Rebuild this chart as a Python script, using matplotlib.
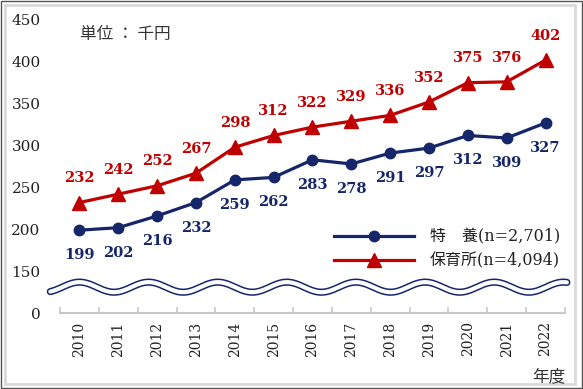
import numpy as np
import matplotlib.pyplot as plt
from matplotlib.patches import Rectangle

years = ["2010", "2011", "2012", "2013", "2014", "2015", "2016",
         "2017", "2018", "2019", "2020", "2021", "2022"]
tokuyo = [199, 202, 216, 232, 259, 262, 283, 278, 291, 297, 312, 309, 327]
hoiku = [232, 242, 252, 267, 298, 312, 322, 329, 336, 352, 375, 376, 402]
ytick_vals = [100, 150, 200, 250, 300, 350, 400, 450]
ytick_labels = ["0", "150", "200", "250", "300", "350", "400", "450"]

navy = "#16266B"
red = "#C00000"
serif = ["DejaVu Serif", "Noto Sans CJK JP"]
jp = ["Noto Sans CJK JP", "DejaVu Sans"]

fig = plt.figure(figsize=(5.83, 3.89), dpi=100)
ax = fig.add_axes([0.103, 0.195, 0.866, 0.754])

x = np.arange(len(years))
l1, = ax.plot(x, tokuyo, color=navy, lw=2.3, marker="o", ms=7.5, zorder=4,
              label="特\u3000養(n=2,701)")
l2, = ax.plot(x, hoiku, color=red, lw=2.3, marker="^", ms=10, zorder=4,
              label="保育所(n=4,094)")

for i, v in enumerate(tokuyo):
    ax.annotate(str(v), (i, v), xytext=(0, -18), textcoords="offset points",
                ha="center", va="center", color=navy, fontsize=10.5,
                fontweight="bold", family=serif)
for i, v in enumerate(hoiku):
    ax.annotate(str(v), (i, v), xytext=(0, 17.5), textcoords="offset points",
                ha="center", va="center", color=red, fontsize=10.5,
                fontweight="bold", family=serif)

# wavy break line
xs = np.linspace(-0.75, 12.55, 500)
ys = 131 + 6 * np.cos(2 * np.pi * xs / 1.78)
ax.plot(xs, ys, color=navy, lw=5.2, clip_on=False, solid_capstyle="round", zorder=2)
ax.plot(xs, ys, color="white", lw=3.0, clip_on=False, solid_capstyle="round", zorder=2.1)

ax.set_xlim(-0.5, len(years) - 0.5)
ax.set_ylim(100, 450)
ax.set_yticks(ytick_vals, ytick_labels)
ax.set_xticks(x, years, rotation=90)
ax.set_xticks(np.arange(-0.5, len(years), 1), minor=True)
for s in ["left", "top", "right"]:
    ax.spines[s].set_visible(False)
ax.spines["bottom"].set_color("#C8C8C8")
ax.spines["bottom"].set_linewidth(1.5)
ax.tick_params(axis="y", length=0, pad=14, labelsize=11, labelcolor="#222222")
ax.tick_params(axis="x", which="major", length=0, pad=6, labelsize=10, labelcolor="#222222")
ax.tick_params(axis="x", which="minor", direction="in", length=4, width=1.2, color="#C8C8C8")
for lab in ax.get_xticklabels() + ax.get_yticklabels():
    lab.set_family(serif)

leg = ax.legend(handles=[l1, l2], loc="upper left", bbox_to_anchor=(0.53, 0.31),
                frameon=False, handlelength=5.0, handletextpad=1.0,
                labelspacing=0.45, borderaxespad=0,
                prop={"family": serif, "size": 11.5})
for t in leg.get_texts():
    t.set_color("#222222")

fig.text(80 / 583, 1 - 34 / 389, "単位 ： 千円", ha="left", va="center",
         fontsize=12, family=jp, color="#333333")
fig.text(565 / 583, 1 - 377 / 389, "年度", ha="right", va="center",
         fontsize=12, family=jp, color="#333333")

fig.patches.append(Rectangle((1 / 583, 1 / 389), 581 / 583, 387 / 389,
                             transform=fig.transFigure, fill=False,
                             edgecolor="#555555", lw=1))
fig.patches.append(Rectangle((5 / 583, 5 / 389), 570 / 583, 379 / 389,
                             transform=fig.transFigure, fill=False,
                             edgecolor="#D9D9D9", lw=2))

fig.savefig("out.png", dpi=100)
